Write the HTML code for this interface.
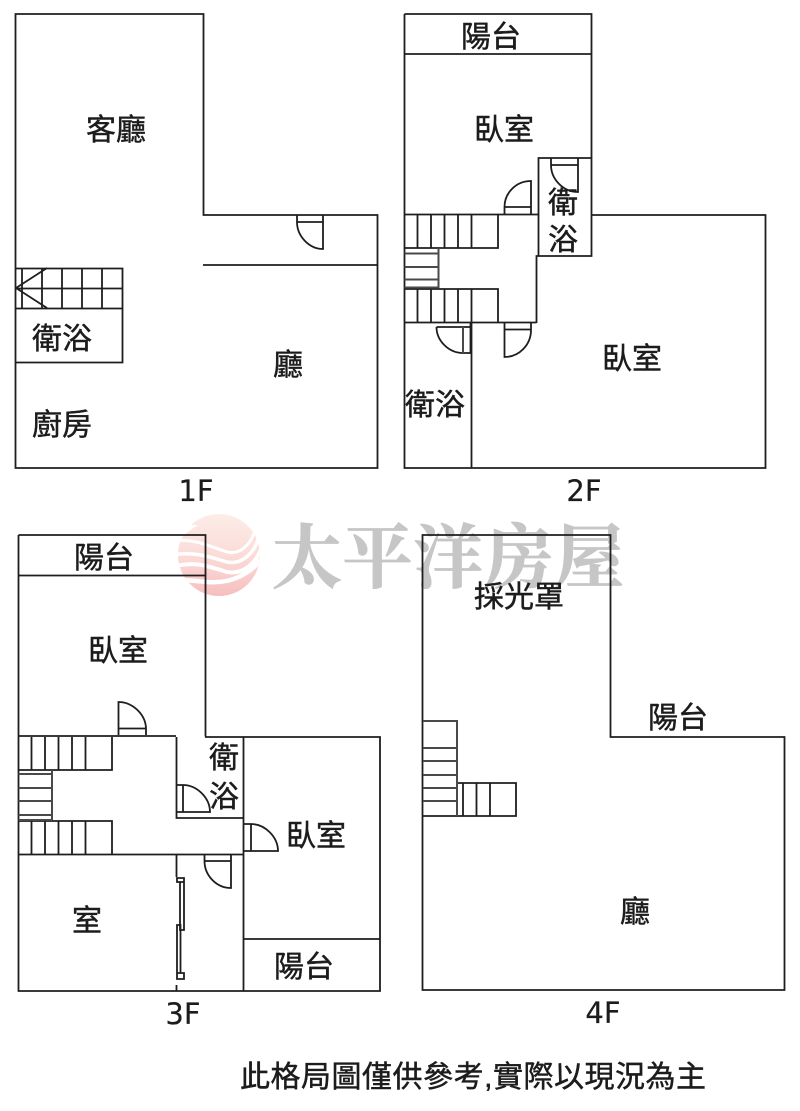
<!DOCTYPE html>
<html>
<head>
<meta charset="utf-8">
<style>
html,body{margin:0;padding:0;background:#fff;width:800px;height:1111px;overflow:hidden}
svg{display:block}
text{font-family:"Liberation Sans","Noto Sans CJK TC",sans-serif;font-size:30px;fill:#1c1c1c;stroke:#1c1c1c;stroke-width:.45px;text-anchor:middle}
.n{font-family:"DejaVu Sans",sans-serif;font-size:29px;stroke-width:.2px}
.w{font-family:"Liberation Serif","Noto Serif CJK SC",serif;font-weight:700;font-size:70px;fill:#c6c6c6;stroke:#c6c6c6;stroke-width:.8px;text-anchor:start}
.l{fill:none;stroke:#1e1e1e;stroke-width:1.8}
.g{fill:none;stroke:#4a4a4a;stroke-width:2}
</style>
</head>
<body>
<svg width="800" height="1111" viewBox="0 0 800 1111" xmlns="http://www.w3.org/2000/svg">
<defs>
<clipPath id="c"><circle cx="219" cy="555" r="41"/></clipPath>
<linearGradient id="p" x1="0" y1="0" x2="0" y2="1"><stop offset="0" stop-color="#fdeee9"/><stop offset=".5" stop-color="#fbdcd8"/><stop offset="1" stop-color="#f6bcbc"/></linearGradient>
</defs>

<!-- watermark -->
<g clip-path="url(#c)">
<rect x="175" y="510" width="90" height="90" fill="url(#p)"/>
<g fill="none" stroke="#fff">
<path stroke-width="3" d="M172 541C195 538 208 546 227 552C240 555 252 545 256 526"/>
<path stroke-width="3.5" d="M172 555C195 551 210 557 227 562C242 565 255 553 259 536"/>
<path stroke-width="4" d="M172 567C195 560 210 567 227 572C243 575 257 563 262 546"/>
<path stroke-width="4.5" d="M172 580C190 580 195 581 207 582C230 584 250 575 264 556"/>
</g>
</g>
<path d="M176 525H198C188 531 183 536 179 541H176ZM176 583H186L192 600H176Z" fill="#fff"/>
<text class="w" x="272" y="582" textLength="352" lengthAdjust="spacing">太平洋房屋</text>

<!-- 1F -->
<g class="l">
<path d="M15.5 14H203.5V215H377.5V468H15.5Z"/>
<path d="M203 265H377.5"/>
<path d="M297 215V222C297 236 309 249 323 249V215M297 222H323"/>
<path d="M15.5 268.5H122.5V362.5H15.5M15.5 288.5H122.5M15.5 308.5H122.5M22 268.5V308.5M42 268.5V308.5M62 268.5V308.5M82 268.5V308.5M102 268.5V308.5"/>
<path d="M16 288L47 268M16 288L47 308"/>
</g>
<text x="116" y="140">客廳</text>
<text x="62" y="349">衛浴</text>
<text x="288" y="375">廳</text>
<text x="62" y="435">廚房</text>
<text class="n" x="196" y="501">1F</text>

<!-- 2F -->
<g class="l">
<path d="M404.5 14H591.5V158M404.5 14V468H765.5V215H592"/>
<path d="M404.5 54H591.5"/>
<path d="M538.5 158H591.5V256H538.5ZM538 256H536.5V323M404.5 214.5H538M404.5 322.5H536.5M471.5 322.5V468"/>
<path d="M404.5 248H498V214.5M404.5 289H498V322.5M417.5 214.5V248M431 214.5V248M444.5 214.5V248M458 214.5V248M471.5 214.5V248M417.5 289V322.5M431 289V322.5M444.5 289V322.5M458 289V322.5M471.5 289V322.5"/>
<path d="M504.5 214V207C504.5 193 516 181 531 181V214M504.5 207H531"/>
<path d="M551 158V165C551 179 563 192 578 192V158M551 165H578"/>
<path d="M436.5 327H470.5M470.5 323V353H463C449 353 436.5 341 436.5 327"/>
<path d="M504.5 323V357C519 357 531 345 531 330V323M504.5 329.5H531"/>
</g>
<g class="g">
<path d="M438.5 248V288M404.5 253.5H438.5M404.5 267H438.5M404.5 279.5H438.5M404.5 287.5H438.5M463 327V353"/>
</g>
<text x="491" y="47">陽台</text>
<text x="504" y="140">臥室</text>
<text x="563" y="213">衛</text>
<text x="563" y="250">浴</text>
<text x="632" y="369">臥室</text>
<text x="435" y="415">衛浴</text>
<text class="n" x="584" y="501">2F</text>

<!-- 3F -->
<g class="l">
<path d="M18.5 535H205.5V736.5M18.5 535V991H380V737H205M18.5 575.5H205.5M18.5 736H176"/>
<path d="M176.5 737V818H243.5M243.5 737V991M18.5 854.5H243.5M243.5 939H380"/>
<path d="M18.5 770H112V737M18.5 821H112V854M31.5 737V770M45 737V770M58.5 737V770M72 737V770M85.5 737V770M31.5 821V854M45 821V854M58.5 821V854M72 821V854M85.5 821V854"/>
<path d="M118.5 735V702C133 702 146 715 146 729V735M118.5 728.5H146"/>
<path d="M176.5 785H183C197 785 210 798 210 812H176.5M183 785V812"/>
<path d="M243.5 824H251C265 824 278 837 278 851H243.5M251 824V851"/>
<path d="M204.5 854V861C204.5 875 216 888 231 888V854M204.5 861H231"/>
<path d="M176.5 854V877M177 878H184V882H177ZM177 973H184V979H177ZM180 882H184V930H180ZM177 925H180.5V973H177ZM176.5 985V991"/>
</g>
<g class="g">
<path d="M52 770V820M18.5 774H52M18.5 788H52M18.5 801H52M18.5 815H52M18.5 820H52"/>
</g>
<text x="104" y="568">陽台</text>
<text x="118" y="661">臥室</text>
<text x="224" y="768">衛</text>
<text x="224" y="807">浴</text>
<text x="316" y="846">臥室</text>
<text x="87" y="931">室</text>
<text x="304" y="977">陽台</text>
<text class="n" x="183" y="1024">3F</text>

<!-- 4F -->
<g class="l">
<path d="M422.5 535H610.5V737H784.5V990H422.5Z"/>
<path d="M457 783H516V816H423M463 783V816M476.5 783V816M490 783V816"/>
</g>
<g class="g">
<path d="M423 721H457V816M423 748H457M423 761H457M423 775H457M423 788H457M423 801H457"/>
</g>
<text x="519" y="607">採光罩</text>
<text x="678" y="728">陽台</text>
<text x="635" y="922">廳</text>
<text class="n" x="603" y="1023">4F</text>

<!-- footer -->
<text x="473" y="1087" textLength="466" lengthAdjust="spacing">此格局圖僅供參考,實際以現況為主</text>
</svg>
</body>
</html>
